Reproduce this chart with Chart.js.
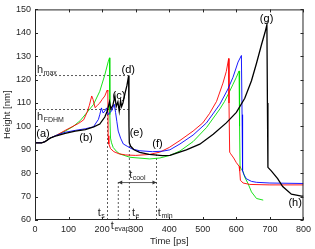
<!DOCTYPE html>
<html>
<head>
<meta charset="utf-8">
<script src="https://cdn.jsdelivr.net/npm/chart.js@4.4.1/dist/chart.umd.min.js"></script>
<style>
  html, body { margin: 0; padding: 0; background: #fff; }
  canvas { display: block; }
</style>
</head>
<body>
<canvas id="heightChart" width="315" height="249"></canvas>
<script>
// time [ps] / height [nm]
const blackT = [0, 20, 30, 45, 64, 90, 120, 150, 175, 193, 208, 215, 222, 226, 232, 238, 242, 247, 251, 255, 258, 262, 268, 274, 279, 280, 281, 285, 295, 312, 340, 380, 402, 451, 491, 531, 570, 600, 625, 645, 660, 675, 685, 691, 692.5, 694, 704, 723, 738, 764, 794, 800];
const blackH = [93, 93, 93.5, 95, 96, 97, 98, 98.6, 99.8, 101, 104, 106.5, 110.5, 107.5, 109, 113, 108.5, 110.5, 106.5, 111, 108.5, 110, 114, 117.5, 121.7, 100, 93, 91.5, 90, 88.9, 88, 87.5, 87.6, 90, 92.4, 96.6, 101.5, 106, 112, 119.5, 127, 135, 140, 143.5, 110, 82.5, 81, 77.7, 74.3, 71, 70.2, 70.2];

const redT = [0, 20, 30, 45, 64, 90, 110, 130, 145, 155, 162, 169, 173, 179, 186, 193, 200, 208, 215, 217, 218, 220, 225, 235, 250, 270, 300, 340, 372, 400, 432, 471, 500, 520, 541, 560, 570, 577, 578, 580, 583, 592, 600, 608, 610, 612, 620, 640, 700, 800];
const redH = [93, 93, 93.5, 95, 96.2, 98.3, 99.8, 101.3, 102.8, 106, 109, 113, 111.5, 108, 109, 110, 111.5, 113, 115.5, 115, 96, 92.5, 90.5, 89.2, 88.3, 87.8, 87.6, 88, 89, 91, 94, 98, 101.5, 105.5, 110.7, 118.5, 123.5, 129, 110, 89, 88.3, 86.5, 84.5, 83, 81, 77, 75.8, 75.2, 75, 75];

const greenT = [0, 20, 30, 45, 64, 90, 114, 135, 154, 174, 193, 208, 218, 222, 223, 225, 228, 233, 243, 253, 283, 342, 372, 402, 432, 471, 511, 551, 565, 580, 590, 600, 608, 609.5, 611, 615, 620, 625, 635, 645, 660, 680];
const greenH = [93, 93, 93.5, 95, 96.2, 98, 100, 102.5, 105.8, 109.3, 115, 122, 127.6, 129.3, 105, 95, 93, 91, 89.3, 88.2, 86.8, 86.1, 86.5, 87.6, 89.5, 93.5, 99.5, 107.5, 110.7, 115, 118, 121, 123.7, 100, 83, 81.5, 80.8, 78.3, 75.5, 72, 69.2, 68.5];

const blueT = [0, 20, 30, 45, 64, 90, 120, 150, 174, 189, 193, 198, 203, 208, 213, 218, 223, 228, 236, 240, 244, 248, 255, 263, 275, 290, 312, 350, 380, 402, 432, 471, 511, 551, 575, 590, 605, 615, 617, 618.5, 622, 630, 645, 660, 700, 800];
const blueH = [93, 93, 93.5, 95, 96.2, 97.5, 98.3, 99, 99.8, 103, 105, 107.9, 105.7, 106.5, 107.9, 105, 106, 106.5, 109.5, 106, 102, 98, 95, 92.5, 91.5, 90.3, 89.6, 89.2, 89.4, 90, 92.5, 96.3, 101.5, 109.5, 116, 121, 127.5, 130.3, 105, 81, 79.5, 77.6, 76.5, 76.1, 75.8, 75.6];

// dashed guide lines
const hMaxT = [0, 279], hMaxH = [121.7, 121.7];
const hFdhmT = [0, 279], hFdhmH = [107.2, 107.2];
const tsT = [216, 216], tsH = [60, 107.2];
const tEvapT = [248, 248], tEvapH = [60, 77];
const tET = [281, 281], tEH = [60, 92.5];
const tMinT = [362, 362], tMinH = [60, 88];
const coolT = [248, 362], coolH = [76, 76];

// stage labels
const stageText = ['(a)', '(b)', '(c)', '(d)', '(e)', '(f)', '(g)', '(h)'];
const stageT = [24, 152, 250, 278, 302, 365, 690, 775];
const stageH = [96.7, 95, 113, 124.2, 97.2, 92.5, 145.8, 67.2];

// symbol labels: main letter + subscript, left edge at t
const symMain = ['h', 'h', 't', 't', 't', 't'];
const symSub = ['max', 'FDHM', 's', 'evap', 'e', 'min'];
const symT = [6, 6, 187, 226, 289, 366];
const symH = [124.2, 104.2, 62.8, 57.5, 62.8, 62.8];

const xTicks = [0, 800, 100];
const yTicks = [60, 150, 10];

const axisColor = '#262626';
const font = "'Liberation Sans', Arial, sans-serif";

function pts(ts, hs) {
    return ts.map((t, i) => ({ x: t, y: hs[i] }));
}

function curve(ts, hs, color, w, order) {
    return { data: pts(ts, hs), borderColor: color, borderWidth: w, pointRadius: 0, tension: 0, fill: false, order: order };
}

function guide(ts, hs, dashed) {
    return { data: pts(ts, hs), borderColor: '#333', borderWidth: 0.8, borderDash: dashed ? [2, 2] : [], pointRadius: 0, fill: false, order: 10 };
}

function drawSub(ctx, main, sub, x, y) {
    ctx.font = '11px ' + font;
    ctx.textBaseline = 'middle';
    ctx.textAlign = 'left';
    ctx.fillText(main, x, y);
    const w = ctx.measureText(main).width;
    ctx.font = '7px ' + font;
    ctx.fillText(sub, x + w + 0.5, y + 3);
    ctx.font = '11px ' + font;
    return w + ctx.measureText(sub).width;
}

const overlay = {
    id: 'overlay',
    afterDraw(chart) {
        const ctx = chart.ctx;
        const a = chart.chartArea;
        const xs = chart.scales.x, ys = chart.scales.y;
        ctx.save();
        // box and inward ticks
        ctx.strokeStyle = axisColor;
        ctx.lineWidth = 1;
        ctx.strokeRect(a.left + 0.5, a.top + 0.5, a.right - a.left - 1, a.bottom - a.top - 1);
        ctx.beginPath();
        xs.ticks.forEach(t => {
            const px = Math.round(xs.getPixelForValue(t.value)) + 0.5;
            ctx.moveTo(px, a.bottom); ctx.lineTo(px, a.bottom - 3);
            ctx.moveTo(px, a.top); ctx.lineTo(px, a.top + 3);
        });
        ys.ticks.forEach(t => {
            const py = Math.round(ys.getPixelForValue(t.value)) + 0.5;
            ctx.moveTo(a.left, py); ctx.lineTo(a.left + 3, py);
            ctx.moveTo(a.right, py); ctx.lineTo(a.right - 3, py);
        });
        ctx.stroke();

        // arrow heads of t_cool
        ctx.fillStyle = '#333';
        const ay = ys.getPixelForValue(coolH[0]);
        const x0 = xs.getPixelForValue(coolT[0]), x1 = xs.getPixelForValue(coolT[1]);
        ctx.beginPath();
        ctx.moveTo(x0, ay); ctx.lineTo(x0 + 4, ay - 2); ctx.lineTo(x0 + 4, ay + 2); ctx.closePath();
        ctx.moveTo(x1, ay); ctx.lineTo(x1 - 4, ay - 2); ctx.lineTo(x1 - 4, ay + 2); ctx.closePath();
        ctx.fill();

        // stage labels
        ctx.fillStyle = '#000';
        ctx.font = '11px ' + font;
        ctx.textAlign = 'center';
        ctx.textBaseline = 'middle';
        stageText.forEach((s, i) => {
            ctx.fillText(s, xs.getPixelForValue(stageT[i]), ys.getPixelForValue(stageH[i]));
        });

        // symbol labels
        ctx.fillStyle = axisColor;
        symMain.forEach((m, i) => {
            drawSub(ctx, m, symSub[i], xs.getPixelForValue(symT[i]), ys.getPixelForValue(symH[i]));
        });
        // t_cool centred over the arrow
        ctx.font = '11px ' + font;
        const wm = ctx.measureText('t').width;
        ctx.font = '7px ' + font;
        const ws = ctx.measureText('cool').width;
        const cx = (x0 + x1) / 2 - (wm + ws + 0.5) / 2;
        drawSub(ctx, 't', 'cool', cx, ys.getPixelForValue(79.2));
        ctx.restore();
    }
};

new Chart(document.getElementById('heightChart'), {
    type: 'line',
    data: {
        datasets: [
            curve(blackT, blackH, '#000000', 1.3, 1),
            curve(blueT, blueH, '#0000ff', 0.9, 2),
            curve(redT, redH, '#ff0000', 0.9, 3),
            curve(greenT, greenH, '#00e000', 0.9, 4),
            guide(hMaxT, hMaxH, true),
            guide(hFdhmT, hFdhmH, true),
            guide(tsT, tsH, true),
            guide(tEvapT, tEvapH, true),
            guide(tET, tEH, true),
            guide(tMinT, tMinH, true),
            guide(coolT, coolH, false)
        ]
    },
    options: {
        responsive: false,
        animation: false,
        layout: { padding: { top: 7, right: 11, left: 0, bottom: 0 } },
        plugins: { legend: { display: false }, tooltip: { enabled: false } },
        scales: {
            x: {
                type: 'linear',
                min: xTicks[0], max: xTicks[1],
                afterFit: s => { s.height = 29; },
                grid: { display: false, drawTicks: false },
                border: { display: false },
                ticks: { stepSize: xTicks[2], color: axisColor, font: { family: font, size: 9 }, padding: 4, maxRotation: 0 },
                title: { display: true, text: 'Time [ps]', color: axisColor, font: { family: font, size: 9.5 }, padding: { top: 0, bottom: 2 } }
            },
            y: {
                type: 'linear',
                min: yTicks[0], max: yTicks[1],
                afterFit: s => { s.width = 35; },
                grid: { display: false, drawTicks: false },
                border: { display: false },
                ticks: { stepSize: yTicks[2], color: axisColor, font: { family: font, size: 9 }, padding: 4 },
                title: { display: true, text: 'Height [nm]', color: axisColor, font: { family: font, size: 9.5 }, padding: { top: 2, bottom: 0 } }
            }
        }
    },
    plugins: [overlay]
});
</script>
</body>
</html>
